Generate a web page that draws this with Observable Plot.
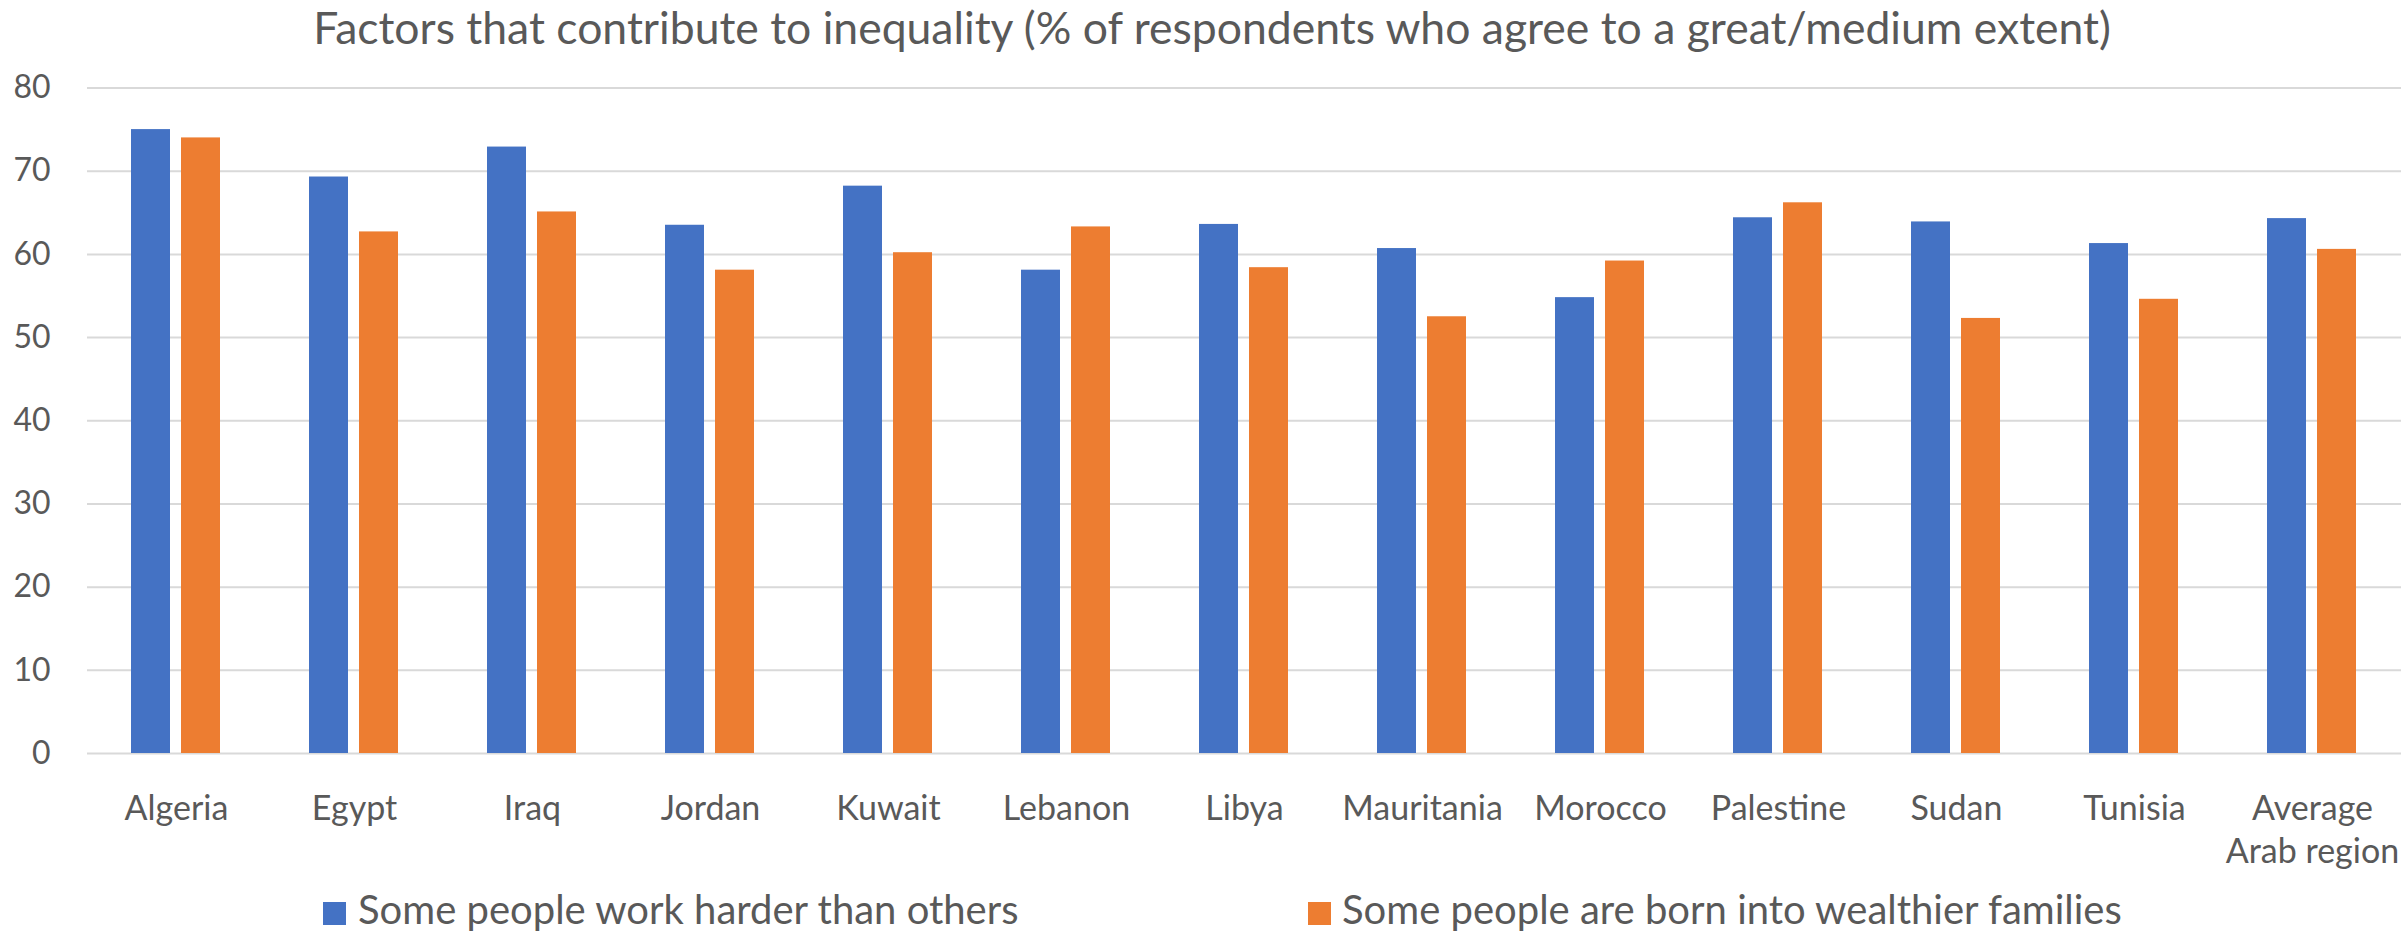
<!DOCTYPE html>
<html>
<head>
<meta charset="utf-8">
<script src="https://cdn.jsdelivr.net/npm/d3@7"></script>
<script src="https://cdn.jsdelivr.net/npm/@observablehq/plot@0.6"></script>
<style>
  html, body { margin: 0; padding: 0; background: #fff; }
  body { width: 2407px; height: 937px; overflow: hidden; position: relative; font-family: Lato, sans-serif; color: #595959; }
  #title { position: absolute; top: 0; left: 0; width: 2407px; line-height: 53.4px; font-size: 44.5px; text-align: center; white-space: nowrap; padding-left: 17px; box-sizing: border-box; }
  #chart { position: absolute; top: 40px; left: 0; }
  #chart svg { display: block; }
  .lg { position: absolute; top: 889px; line-height: 40px; font-size: 40px; white-space: nowrap; }
  .sw { position: absolute; top: 902px; width: 23px; height: 23px; }
</style>
</head>
<body>
<div id="chart"></div>
<div id="title"></div>
<div id="legend"></div>
<script>
const titleText = "Factors that contribute to inequality (% of respondents who agree to a great/medium extent)";
const countries = ["Algeria", "Egypt", "Iraq", "Jordan", "Kuwait", "Lebanon", "Libya", "Mauritania", "Morocco", "Palestine", "Sudan", "Tunisia", "Average\nArab region"];
const seriesNames = ["Some people work harder than others", "Some people are born into wealthier families"];
const workHarder   = [75.0, 69.3, 72.9, 63.5, 68.2, 58.1, 63.6, 60.7, 54.8, 64.4, 63.9, 61.3, 64.3];
const bornWealthy  = [74.0, 62.7, 65.1, 58.1, 60.2, 63.3, 58.4, 52.5, 59.2, 66.2, 52.3, 54.6, 60.6];
const seriesColors = ["#4472C4", "#ED7D31"];
const yTicks = [0, 10, 20, 30, 40, 50, 60, 70, 80];

const data = [];
countries.forEach((c, i) => {
  data.push({country: c, series: seriesNames[0], value: workHarder[i]});
  data.push({country: c, series: seriesNames[1], value: bornWealthy[i]});
});

document.getElementById("title").textContent = titleText;

const chart = Plot.plot({
  width: 2407,
  height: 830,
  marginTop: 47.5,
  marginBottom: 117,
  marginLeft: 82,
  marginRight: 2,
  style: {fontFamily: "Lato, sans-serif", fontSize: "34px", color: "#595959", background: "white", overflow: "visible"},
  fx: {domain: countries, padding: 0, label: null},
  x: {domain: seriesNames, paddingInner: 0.2157, paddingOuter: 0.86, axis: null},
  y: {domain: [0, 80], label: null},
  color: {domain: seriesNames, range: seriesColors},
  marks: [
    Plot.gridY(yTicks, {stroke: "#d9d9d9", strokeOpacity: 1, strokeWidth: 2}),
    Plot.barY(data, {fx: "country", x: "series", y: "value", fill: "series"}),
    Plot.axisY(yTicks, {tickSize: 0, tickPadding: 37, fontSize: 32, label: null, fill: "#595959"}),
    Plot.axisFx({anchor: "bottom", tickSize: 0, tickPadding: 36, fontSize: 34, lineHeight: 1.27, label: null, fill: "#595959"})
  ]
});
document.getElementById("chart").appendChild(chart);

const legend = document.getElementById("legend");
const swLeft = [323, 1308];
const txtLeft = [358, 1342];
seriesNames.forEach((s, i) => {
  const sw = document.createElement("div");
  sw.className = "sw";
  sw.style.left = swLeft[i] + "px";
  sw.style.background = seriesColors[i];
  legend.appendChild(sw);
  const t = document.createElement("div");
  t.className = "lg";
  t.style.left = txtLeft[i] + "px";
  t.textContent = s;
  legend.appendChild(t);
});
</script>
</body>
</html>
